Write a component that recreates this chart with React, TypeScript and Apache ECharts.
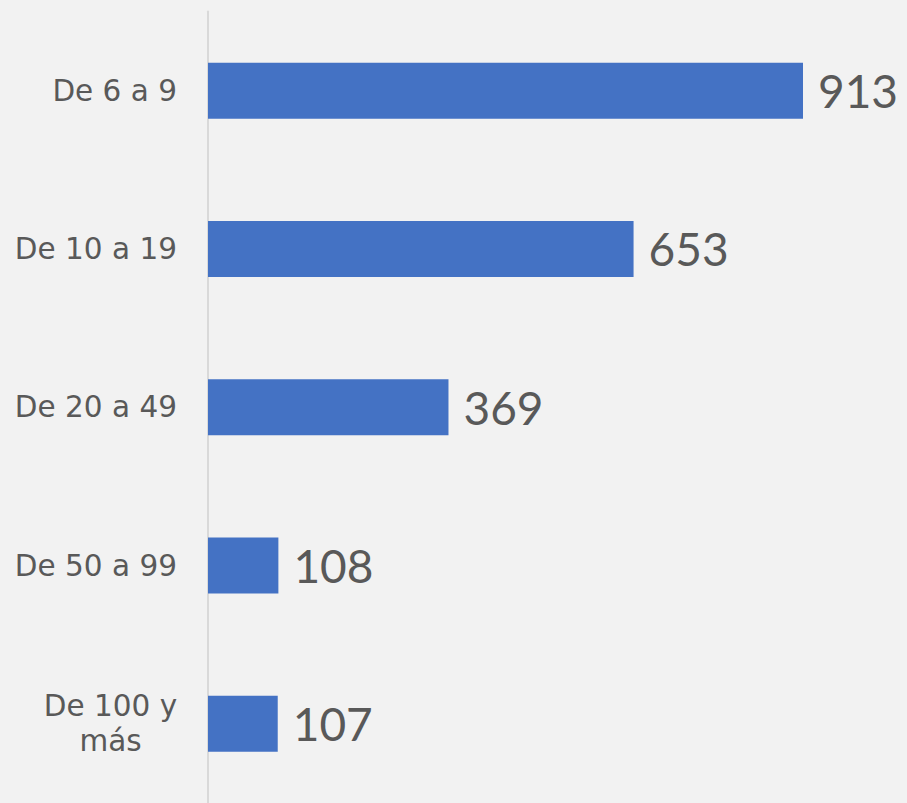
import React, { useEffect, useRef } from "react";
import * as echarts from "echarts";

const categories = ["De 6 a 9", "De 10 a 19", "De 20 a 49", "De 50 a 99", "De 100 y más"];
const values = [913, 653, 369, 108, 107];

export default function App() {
  const ref = useRef<HTMLDivElement>(null);
  useEffect(() => {
    document.body.style.margin = "0";
    const chart = echarts.init(ref.current!, null, { renderer: "svg" });
    const catFont = "DejaVu Sans";
    const valFont = "Lato";
    chart.setOption({
      animation: false,
      backgroundColor: "#f2f2f2",
      grid: { left: 208, top: 11.5, height: 795, width: 651.7 },
      xAxis: { type: "value", min: 0, max: 1000, show: false },
      yAxis: {
        type: "category",
        data: categories,
        inverse: true,
        axisTick: { show: false },
        axisLine: { show: true, lineStyle: { color: "#d9d9d9", width: 2 } },
        splitLine: { show: false },
        axisLabel: {
          margin: 31,
          align: "right",
          color: "#595959",
          fontFamily: catFont,
          fontSize: 29.5,
          lineHeight: 35,
          formatter: (v: string) => {
            if (v === "De 100 y más") return "{c|De 100 y}\n{c|más}";
            return v;
          },
          rich: {
            c: { width: 133, align: "center", color: "#595959", fontFamily: catFont, fontSize: 29.5, lineHeight: 35 },
          },
        },
      },
      series: [
        {
          type: "bar",
          data: values,
          barWidth: 56,
          itemStyle: { color: "#4472c4" },
          label: {
            show: true,
            position: "right",
            distance: 15,
            color: "#595959",
            fontFamily: valFont,
            fontSize: 46,
          },
        },
      ],
    });
    return () => chart.dispose();
  }, []);
  return <div ref={ref} style={{ width: 907, height: 803 }} />;
}
